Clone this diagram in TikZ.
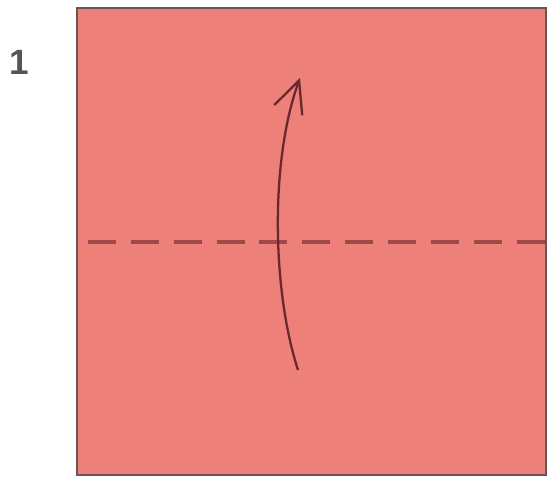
\documentclass[tikz,border=0pt]{standalone}
\usepackage{fontspec}
\setsansfont{Liberation Sans}
\usetikzlibrary{arrows.meta}
\definecolor{carta}{RGB}{237,128,121}
\definecolor{bordo}{RGB}{105,85,85}
\definecolor{piega}{RGB}{160,72,72}
\definecolor{freccia}{RGB}{105,40,45}
\definecolor{numero}{RGB}{85,85,85}
\begin{document}
\begin{tikzpicture}[x=0.02cm,y=-0.02cm]
    \useasboundingbox (0,0) rectangle (549,481);
    \draw[bordo,line width=1.2pt,fill=carta](77,8) rectangle (546,475);
    \node[text=numero,font=\sffamily\bfseries\fontsize{20}{20}\selectfont] (passo) at (19,62) {1};

    %piega a valle
    \draw[piega,line width=2.1pt,dash pattern=on 15.9pt off 8.5pt](88,242)--(545,242);
    \coordinate (inizio) at (298,370);
    \coordinate (fine) at (300,78);
    \draw[freccia,line width=1.3pt,-{Straight Barb[length=18pt,width=17pt]}](inizio) .. controls (272,290) and (270,160) .. (fine);
\end{tikzpicture}
\end{document}
